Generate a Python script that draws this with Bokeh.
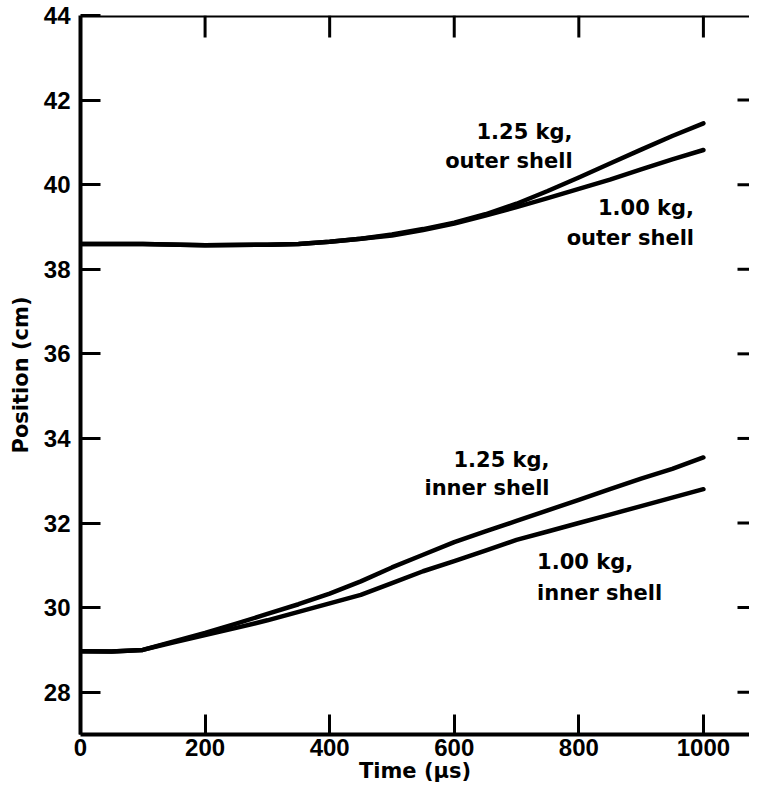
import math
from bokeh.plotting import figure
from bokeh.models import FixedTicker, Label, Span
from bokeh.embed import file_html
from bokeh.resources import INLINE

# ---- data ----
t_outer = [0, 100, 200, 300, 350, 400, 450, 500, 550, 600, 650, 700, 750, 800, 850, 900, 950, 1000]
outer_125 = [38.6, 38.6, 38.57, 38.58, 38.6, 38.65, 38.72, 38.82, 38.95, 39.1, 39.3, 39.55, 39.85, 40.17, 40.5, 40.83, 41.15, 41.45]
outer_100 = [38.6, 38.6, 38.57, 38.58, 38.6, 38.65, 38.72, 38.8, 38.93, 39.08, 39.27, 39.47, 39.68, 39.9, 40.12, 40.36, 40.6, 40.82]

t_inner = [0, 50, 100, 150, 200, 250, 300, 350, 400, 450, 500, 550, 600, 650, 700, 750, 800, 850, 900, 950, 1000]
inner_125 = [28.97, 28.96, 29.0, 29.2, 29.4, 29.62, 29.85, 30.08, 30.33, 30.62, 30.95, 31.25, 31.55, 31.8, 32.05, 32.3, 32.55, 32.8, 33.05, 33.28, 33.55]
inner_100 = [28.97, 28.96, 29.0, 29.18, 29.35, 29.52, 29.7, 29.9, 30.1, 30.3, 30.58, 30.86, 31.1, 31.35, 31.6, 31.8, 32.0, 32.2, 32.4, 32.6, 32.8]

x_ticks = [0, 200, 400, 600, 800, 1000]
y_ticks = [28, 30, 32, 34, 36, 38, 40, 42, 44]
x_min, x_max = 0, 1074
y_min, y_max = 27, 44
x_title = "Time (µs)"
y_title = "Position (cm)"

TICK_FONT = "Liberation Sans"
TEXT_FONT = "DejaVu Sans"

p = figure(width=749, height=791, x_range=(x_min, x_max), y_range=(y_min, y_max),
           output_backend="svg", toolbar_location=None,
           min_border_left=80, min_border_top=15, min_border_right=0, min_border_bottom=57,
           x_axis_label=x_title, y_axis_label=y_title)
p.outline_line_color = None
p.grid.visible = False
p.background_fill_color = "white"
p.border_fill_color = "white"

for ax, ticks in [(p.xaxis[0], x_ticks), (p.yaxis[0], y_ticks)]:
    ax.ticker = FixedTicker(ticks=ticks)
    ax.axis_line_width = 4
    ax.axis_line_color = "black"
    ax.major_tick_line_width = 3
    ax.major_tick_line_color = "black"
    ax.major_tick_in = 20
    ax.major_tick_out = 0
    ax.minor_tick_line_color = None
    ax.major_label_text_font = TICK_FONT
    ax.major_label_text_font_style = "bold"
    ax.major_label_text_font_size = "24px"
    ax.major_label_text_color = "black"
    ax.axis_label_text_font = TEXT_FONT
    ax.axis_label_text_font_style = "bold"
    ax.axis_label_text_font_size = "21px"
    ax.axis_label_text_color = "black"

p.xaxis[0].major_label_standoff = 4
p.xaxis[0].axis_label_standoff = 0
p.yaxis[0].major_label_standoff = 10
p.yaxis[0].axis_label_standoff = 8

# top frame line and inward ticks on the top and right sides
p.add_layout(Span(location=y_max, dimension="width", line_color="black", line_width=4))
p.ray(x=x_ticks[1:], y=[y_max] * (len(x_ticks) - 1), length=22, length_units="screen",
      angle=-math.pi / 2, line_color="black", line_width=3)
p.ray(x=[x_max] * (len(y_ticks) - 1), y=y_ticks[:-1], length=12, length_units="screen",
      angle=math.pi, line_color="black", line_width=3)

for xs, ys in [(t_outer, outer_125), (t_outer, outer_100), (t_inner, inner_125), (t_inner, inner_100)]:
    p.line(xs, ys, line_width=4.5, line_color="black", line_cap="round", line_join="round")

def add_label(x, y, text, align):
    p.add_layout(Label(x=x, y=y, text=text, text_font=TEXT_FONT, text_font_style="bold",
                       text_font_size="21px", text_color="black",
                       text_align=align, text_baseline="middle"))

add_label(790, 41.24, "1.25 kg,", "right")
add_label(790, 40.55, "outer shell", "right")
add_label(985, 39.46, "1.00 kg,", "right")
add_label(985, 38.75, "outer shell", "right")
add_label(753, 33.48, "1.25 kg,", "right")
add_label(753, 32.82, "inner shell", "right")
add_label(733, 31.08, "1.00 kg,", "left")
add_label(733, 30.35, "inner shell", "left")

open("out.html", "w").write(file_html(p, INLINE))
